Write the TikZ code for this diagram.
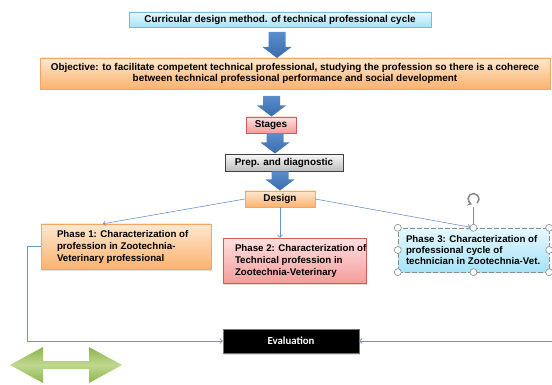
\documentclass[tikz,border=0pt]{standalone}
\usepackage{fontspec}
\setmainfont{Liberation Sans}
\newfontfamily\evalfont{Carlito}
\usetikzlibrary{arrows.meta,shadows,calc}
\definecolor{cyanT}{HTML}{E6F8FF}
\definecolor{cyanB}{HTML}{A6E3F7}
\definecolor{cyanD}{HTML}{7DB6D8}
\definecolor{orT}{HTML}{FEE8D0}
\definecolor{orB}{HTML}{FBB26E}
\definecolor{orD}{HTML}{F6A660}
\definecolor{pkT}{HTML}{FFE0E0}
\definecolor{pkB}{HTML}{F49C9C}
\definecolor{pkD}{HTML}{D05C5A}
\definecolor{grT}{HTML}{F8F8F8}
\definecolor{grB}{HTML}{BDBDBD}
\definecolor{arA}{HTML}{5A8DCB}
\definecolor{arB}{HTML}{3A6CAC}
\definecolor{conn}{HTML}{6A96CC}
\definecolor{hgray}{HTML}{8C8C8C}
\definecolor{gnA}{HTML}{8DB44C}
\definecolor{gnB}{HTML}{BFD88F}
\newcommand\bluedown[3]{\shade[top color=arA,bottom color=arB]
  (#1-8.5,#2) -- (#1+8.5,#2) -- (#1+8.5,#3-11) -- (#1+14.5,#3-11) -- (#1,#3)
  -- (#1-14.5,#3-11) -- (#1-8.5,#3-11) -- cycle;}
\begin{document}
\begin{tikzpicture}[x=1pt,y=-1pt,
  box/.style={inner sep=0pt, font=\bfseries\fontsize{9.9}{11}\selectfont, align=center,
    drop shadow={opacity=0.25,shadow xshift=1pt,shadow yshift=-1.5pt}},
  cyanbox/.style={box, draw=cyanD, top color=cyanT, bottom color=cyanB},
  orbox/.style={box, draw=orD, top color=orT, bottom color=orB},
  pkbox/.style={box, draw=pkD, top color=pkT, bottom color=pkB},
  grbox/.style={box, draw=black!75, top color=grT, bottom color=grB},
  phasetext/.style={inner sep=0pt, anchor=west, align=left, font=\bfseries\fontsize{9.7}{12}\selectfont},
  conn/.style={draw=conn, line width=0.6pt, -{Straight Barb[length=2.5pt,width=5pt]}},
  handle/.style={draw=hgray, fill=white, line width=0.6pt}]
\useasboundingbox (0,0) rectangle (552,385);
% boxes
\node[cyanbox, minimum width=302pt, minimum height=15pt] (title) at (280,19.5)
  {Curricular design method. of technical professional cycle};
\node[orbox, minimum width=510pt, minimum height=31pt] (obj) at (295,73.5)
  {Objective: to facilitate competent technical professional, studying the profession so there is a coherece\\
   between technical professional performance and social development};
\node[pkbox, minimum width=50pt, minimum height=16pt] (stages) at (271,125) {Stages};
\node[grbox, minimum width=118pt, minimum height=17pt] (prep) at (284,162.5) {Prep. and diagnostic};
\node[orbox, minimum width=70pt, minimum height=16pt] (design) at (280,199) {Design};
\node[orbox, minimum width=170pt, minimum height=45pt] (p1) at (126,246.5) {};
\node[phasetext] (p1t) at ([xshift=16pt]p1.west)
  {Phase 1: Characterization of\\profession in Zootechnia-\\Veterinary professional};
\node[pkbox, minimum width=143pt, minimum height=45pt] (p2) at (294.5,260.5) {};
\node[phasetext] (p2t) at ([xshift=12pt]p2.west)
  {Phase 2: Characterization of\\Technical profession in\\Zootechnia-Veterinary};
\node[inner sep=0pt, draw=hgray, dash pattern=on 5pt off 2pt, top color=cyanT, bottom color=cyanB,
  minimum width=151pt, minimum height=44pt] (p3) at (473.5,250) {};
\node[phasetext, font=\bfseries\fontsize{9.7}{10.8}\selectfont] (p3t) at ([xshift=8pt]p3.west)
  {Phase 3: Characterization of\\professional cycle of\\technician in Zootechnia-Vet.};
\node[box, draw=black!55, fill=black, text=white, font=\evalfont\bfseries\fontsize{10.8}{12}\selectfont,
  minimum width=136pt, minimum height=24pt] (eval) at (291,341) {Evaluation};
% block arrows
\bluedown{277}{32}{58}
\bluedown{271.5}{96}{116.5}
\bluedown{275}{133.5}{153.5}
\bluedown{280}{171.5}{190.5}
% connectors
\draw[conn] (design.west) -- ($(p1.north west)+(62,0)$);
\draw[conn] (design.south) -- (design.south |- p2.north);
\draw[conn, shorten >=3pt] (design.east) -- (p3.north);
\draw[conn] (p1.west) -- ++(-14,0) |- (eval.west);
\coordinate (rend) at (552,341);
\draw[conn] (rend) -- (eval.east);
% selection handles
\draw[draw=hgray, line width=0.7pt] (p3.north) -- ++(0,-21);
\draw[draw=hgray, line width=1.6pt, -{Stealth[length=4pt,width=6pt]}]
  (473.5,199) ++(-50:5.5pt) arc[start angle=-50, end angle=250, radius=5.5pt];
\foreach \a in {north west,north,north east,east,south east,south,south west,west}
  \draw[handle] (p3.\a) circle[radius=3.5pt];
% green double arrow
\shade[top color=gnA, bottom color=gnA, middle color=gnB]
  (10,365) -- (43,347) -- (43,361) -- (89,361) -- (89,347) -- (122,365)
  -- (89,383) -- (89,369) -- (43,369) -- (43,383) -- cycle;
\end{tikzpicture}
\end{document}
